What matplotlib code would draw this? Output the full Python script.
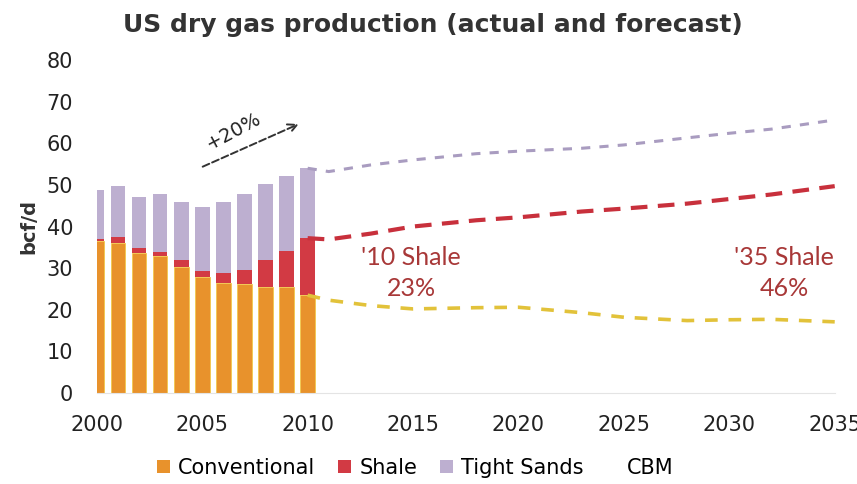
import numpy as np
import matplotlib
matplotlib.use("Agg")
import matplotlib.pyplot as plt
from matplotlib.patches import Patch

# actual production, bcf/d
years = [2000, 2001, 2002, 2003, 2004, 2005, 2006, 2007, 2008, 2009, 2010]
conventional = [36.6, 36.0, 33.6, 32.9, 30.3, 27.8, 26.4, 26.1, 25.5, 25.5, 23.5]
shale = [0.3, 1.4, 1.2, 1.0, 1.7, 1.5, 2.4, 3.4, 6.5, 8.6, 13.7]
tight_sands = [11.9, 12.3, 12.4, 13.8, 14.0, 15.3, 17.2, 18.2, 18.1, 18.1, 16.8]

# forecast (dashed lines are cumulative stacks)
fc_years = [2010, 2011, 2013, 2015, 2018, 2020, 2023, 2025, 2028, 2030, 2032, 2035]
fc_conventional = [23.5, 22.3, 21.0, 20.2, 20.5, 20.6, 19.3, 18.2, 17.4, 17.6, 17.7, 17.1]
fc_shale = [13.7, 14.6, 17.3, 19.8, 21.0, 21.6, 24.3, 26.1, 28.1, 29.0, 30.0, 32.6]
fc_tight_sands = [16.8, 16.3, 16.5, 16.0, 16.0, 15.9, 15.2, 15.3, 15.8, 15.8, 15.7, 15.9]

labels = ["Conventional", "Shale", "Tight Sands", "CBM"]
colors = ["#E8922C", "#D23A44", "#BDAFD0", "#FFFFFF"]
line_colors = ["#E2C23A", "#C8303C", "#A99CC0"]

fig = plt.figure(figsize=(8.57, 4.84), dpi=100)
ax = fig.add_axes([0.113, 0.188, 0.861, 0.688])

x = np.array(years)
conv = np.array(conventional)
sh = np.array(shale)
ts = np.array(tight_sands)
ax.bar(x, conv, width=0.7, color=colors[0], edgecolor="#F2C84A", linewidth=0.6)
ax.bar(x, sh, width=0.7, bottom=conv, color=colors[1], linewidth=0)
ax.bar(x, ts, width=0.7, bottom=conv + sh, color=colors[2], linewidth=0)

fx = np.array(fc_years)
c1 = np.array(fc_conventional)
c2 = c1 + np.array(fc_shale)
c3 = c2 + np.array(fc_tight_sands)
ax.plot(fx, c3, ls=(0, (3, 3)), color=line_colors[2], lw=2.2)
ax.plot(fx, c2, ls=(0, (4, 2.5)), color=line_colors[1], lw=3)
ax.plot(fx, c1, ls=(0, (3.5, 3)), color=line_colors[0], lw=2.6)

ax.set_xlim(2000, 2035)
ax.set_ylim(0, 80)
ax.set_xticks(range(2000, 2036, 5))
ax.set_yticks(range(0, 81, 10))
ax.tick_params(length=0, labelsize=15, labelcolor="#222222")
ax.tick_params(axis="x", pad=16)
ax.tick_params(axis="y", pad=17)
for s in ["top", "right", "left"]:
    ax.spines[s].set_visible(False)
ax.spines["bottom"].set_color("#E4E4E4")

ax.set_ylabel("bcf/d", fontsize=14, fontweight="bold", color="#333333", labelpad=6)

# +20% growth arrow
ax.annotate("", xy=(2009.7, 64.9), xytext=(2004.9, 54.1),
            arrowprops=dict(arrowstyle="->", color="#333333", lw=1.4, ls="--",
                            mutation_scale=16))
ax.text(2006.5, 63.0, "+20%", rotation=28, fontsize=14, color="#222222",
        ha="center", va="center")

ax.text(2014.9, 28.8, "'10 Shale\n23%", fontsize=18, color="#A83838",
        family=["Lato", "DejaVu Sans"], ha="center", va="center", linespacing=1.45)
ax.text(2032.6, 28.8, "'35 Shale\n46%", fontsize=18, color="#A83838",
        family=["Lato", "DejaVu Sans"], ha="center", va="center", linespacing=1.45)

fig.text(0.505, 0.948, "US dry gas production (actual and forecast)",
         fontsize=18, fontweight="bold", color="#333333", ha="center", va="center")

handles = [Patch(facecolor=c, edgecolor="none") for c in colors]
fig.legend(handles, labels, loc="center", bbox_to_anchor=(0.485, 0.033), ncol=4,
           frameon=False, handlelength=0.6, handleheight=0.6, handletextpad=0.4,
           columnspacing=1.1, prop={"size": 15})

fig.savefig("out.png", dpi=100)
